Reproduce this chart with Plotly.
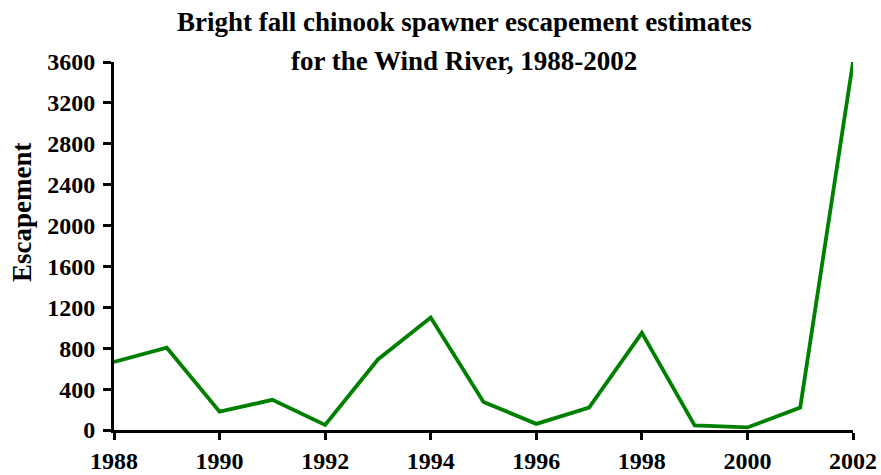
import plotly.graph_objects as go

years = list(range(1988, 2003))
escapement = [665, 805, 180, 295, 50, 690, 1100, 275, 60, 220, 950, 45, 25, 220, 3600]
x_ticks = [1988, 1990, 1992, 1994, 1996, 1998, 2000, 2002]
y_ticks = [0, 400, 800, 1200, 1600, 2000, 2400, 2800, 3200, 3600]

title_1 = "Bright fall chinook spawner escapement estimates"
title_2 = "for the Wind River, 1988-2002"
y_title = "Escapement"

font_family = "Liberation Serif, Times New Roman, serif"

fig = go.Figure()
fig.add_trace(go.Scatter(
    x=years, y=escapement, mode="lines",
    line=dict(color="#008000", width=3.8),
    showlegend=False, cliponaxis=False, hoverinfo="skip",
))

W, H = 881, 475
L, R, T, B = 114, 881 - 853, 62, 45

fig.update_layout(
    width=W, height=H,
    margin=dict(l=L, r=R, t=T, b=B),
    paper_bgcolor="white", plot_bgcolor="white",
    font=dict(family=font_family, color="black", size=24),
    xaxis=dict(
        range=[1988, 2002], tickvals=x_ticks, ticktext=[str(v) for v in x_ticks],
        showgrid=False, zeroline=False, showline=True, linecolor="black", linewidth=3,
        ticks="outside", ticklen=7, tickwidth=3, tickcolor="black",
        tickfont=dict(family=font_family, size=24, color="black", weight="bold"),
        automargin=False,
    ),
    yaxis=dict(
        range=[0, 3600], tickvals=y_ticks, ticktext=[str(v) for v in y_ticks],
        showgrid=False, zeroline=False, showline=True, linecolor="black", linewidth=3,
        ticks="outside", ticklen=8, tickwidth=3, tickcolor="black",
        tickfont=dict(family=font_family, size=24, color="black", weight="bold"),
        ticklabelstandoff=3,
        automargin=False,
    ),
)

def px_x(p):
    return (p - L) / (W - L - R)

def px_y(p):
    return (H - B - p) / (H - T - B)

fig.add_annotation(text="<b>" + title_1 + "</b>", xref="paper", yref="paper",
                   x=px_x(464), y=px_y(22), showarrow=False, xanchor="center", yanchor="middle",
                   font=dict(family=font_family, size=27, color="black"))
fig.add_annotation(text="<b>" + title_2 + "</b>", xref="paper", yref="paper",
                   x=px_x(464), y=px_y(61), showarrow=False, xanchor="center", yanchor="middle",
                   font=dict(family=font_family, size=27, color="black"))
fig.add_annotation(text="<b>" + y_title + "</b>", xref="paper", yref="paper",
                   x=px_x(22), y=px_y(213), showarrow=False, xanchor="center", yanchor="middle",
                   textangle=-90, font=dict(family=font_family, size=27, color="black"))

fig.write_html(
    "out.html",
    config={"displayModeBar": False, "staticPlot": True},
    post_script="document.body.style.margin='0';document.body.style.overflow='hidden';",
)
